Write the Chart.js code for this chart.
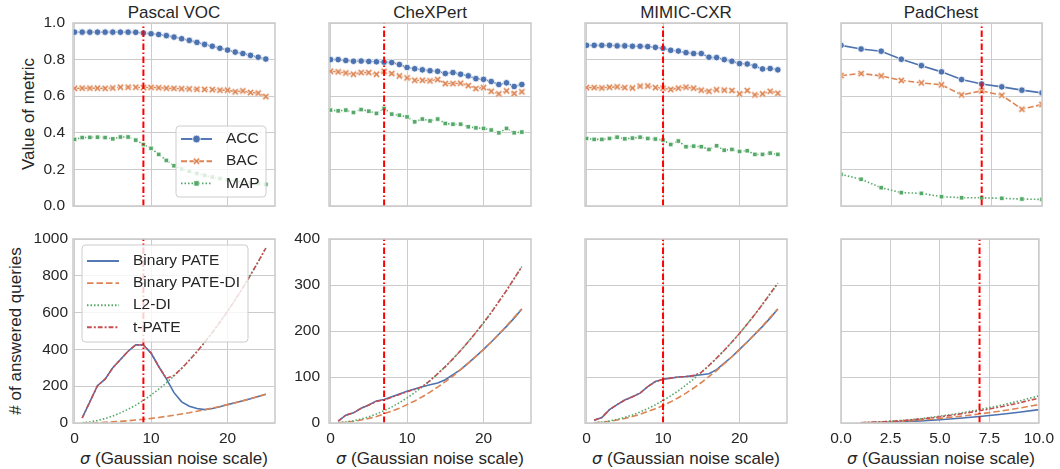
<!DOCTYPE html>
<html lang="en">
<head>
<meta charset="UTF-8">
<title>Metrics and answered queries vs. Gaussian noise scale</title>
<script src="https://cdn.jsdelivr.net/npm/chart.js@4.4.0/dist/chart.umd.min.js"></script>
<style>
    body {
        margin: 0;
        background: #ffffff;
        font-family: "Liberation Sans", Arial, sans-serif;
        color: #262626;
    }
    #fig {
        position: relative;
        width: 1060px;
        height: 469px;
        overflow: hidden;
    }
    #fig canvas {
        position: absolute;
        left: 0;
        top: 0;
    }
    .txt {
        position: absolute;
        font-size: 17px;
        line-height: 1;
        white-space: nowrap;
        transform: translate(-50%, -50%);
    }
    .vert {
        transform: translate(-50%, -50%) rotate(-90deg);
    }
    .sym {
        font-family: "DejaVu Sans", sans-serif;
        font-style: italic;
        font-size: 16px;
    }
</style>
</head>
<body>
<div id="fig">
    <div class="txt" style="left:174px; top:12px">Pascal VOC</div>
    <div class="txt" style="left:430px; top:12px">CheXPert</div>
    <div class="txt" style="left:686px; top:12px">MIMIC-CXR</div>
    <div class="txt" style="left:941px; top:12px">PadChest</div>
    <div class="txt vert" style="left:28px; top:114px">Value of metric</div>
    <div class="txt vert" style="left:15px; top:331px"># of answered queries</div>
    <div class="txt" style="left:174px; top:458px"><span class="sym">σ</span> (Gaussian noise scale)</div>
    <div class="txt" style="left:430px; top:458px"><span class="sym">σ</span> (Gaussian noise scale)</div>
    <div class="txt" style="left:686px; top:458px"><span class="sym">σ</span> (Gaussian noise scale)</div>
    <div class="txt" style="left:941px; top:458px"><span class="sym">σ</span> (Gaussian noise scale)</div>
</div>

<script>
    // ---- data ----
    const sigmaTop = [0, 1, 2, 3, 4, 5, 6, 7, 8, 9, 10, 11, 12, 13, 14, 15, 16, 17, 18, 19, 20, 21, 22, 23, 24, 25];
    const sigmaBottom = [1, 2, 3, 4, 5, 6, 7, 8, 9, 10, 11, 12, 13, 14, 15, 16, 17, 18, 19, 20, 21, 22, 23, 24, 25];
    const sigmaPadTop = [0, 1, 2, 3, 4, 5, 6, 7, 8, 9, 10];
    const sigmaPadBottom = [1, 2, 3, 4, 5, 6, 7, 8, 9, 10];
    const chosenSigma = [9, 7, 10, 7];

    const datasetNames = ['Pascal VOC', 'CheXPert', 'MIMIC-CXR', 'PadChest'];
    const metricNames = ['ACC', 'BAC', 'MAP'];
    const methodNames = ['Binary PATE', 'Binary PATE-DI', 'L2-DI', 't-PATE'];

    const pascalAcc = [0.950, 0.950, 0.950, 0.950, 0.950, 0.950, 0.950, 0.950, 0.949, 0.945, 0.941, 0.937, 0.931, 0.923, 0.914, 0.905, 0.894, 0.883, 0.873, 0.862, 0.852, 0.841, 0.833, 0.823, 0.813, 0.803];
    const pascalBac = [0.643, 0.644, 0.644, 0.644, 0.643, 0.645, 0.649, 0.649, 0.649, 0.647, 0.648, 0.646, 0.644, 0.643, 0.641, 0.640, 0.638, 0.637, 0.636, 0.633, 0.633, 0.624, 0.629, 0.620, 0.617, 0.598];
    const pascalMap = [0.364, 0.374, 0.375, 0.376, 0.374, 0.367, 0.377, 0.377, 0.360, 0.336, 0.315, 0.282, 0.249, 0.220, 0.202, 0.190, 0.178, 0.168, 0.158, 0.150, 0.143, 0.137, 0.132, 0.127, 0.122, 0.118];

    const chexAcc = [0.800, 0.800, 0.795, 0.791, 0.792, 0.790, 0.788, 0.786, 0.784, 0.773, 0.757, 0.750, 0.744, 0.739, 0.736, 0.724, 0.729, 0.720, 0.711, 0.696, 0.692, 0.680, 0.664, 0.673, 0.653, 0.664];
    const chexBac = [0.736, 0.733, 0.727, 0.720, 0.729, 0.729, 0.720, 0.736, 0.724, 0.711, 0.700, 0.687, 0.687, 0.684, 0.691, 0.669, 0.669, 0.671, 0.658, 0.642, 0.647, 0.627, 0.613, 0.629, 0.615, 0.624];
    const chexMap = [0.524, 0.520, 0.524, 0.511, 0.527, 0.518, 0.506, 0.533, 0.502, 0.496, 0.487, 0.460, 0.475, 0.465, 0.475, 0.451, 0.447, 0.447, 0.433, 0.427, 0.424, 0.415, 0.400, 0.424, 0.400, 0.404];

    const mimicAcc = [0.878, 0.878, 0.878, 0.878, 0.875, 0.875, 0.873, 0.873, 0.871, 0.867, 0.862, 0.851, 0.847, 0.838, 0.833, 0.833, 0.813, 0.811, 0.800, 0.791, 0.778, 0.776, 0.765, 0.749, 0.751, 0.744];
    const mimicBac = [0.647, 0.647, 0.645, 0.649, 0.651, 0.647, 0.645, 0.655, 0.656, 0.647, 0.644, 0.637, 0.644, 0.649, 0.644, 0.633, 0.627, 0.635, 0.633, 0.631, 0.613, 0.631, 0.607, 0.613, 0.627, 0.616];
    const mimicMap = [0.369, 0.364, 0.364, 0.369, 0.376, 0.367, 0.371, 0.376, 0.369, 0.366, 0.360, 0.336, 0.355, 0.324, 0.327, 0.324, 0.309, 0.329, 0.305, 0.309, 0.298, 0.302, 0.282, 0.282, 0.289, 0.282];

    const padAcc = [0.878, 0.858, 0.846, 0.802, 0.767, 0.733, 0.691, 0.667, 0.651, 0.633, 0.618];
    const padBac = [0.713, 0.724, 0.711, 0.686, 0.673, 0.662, 0.607, 0.629, 0.605, 0.529, 0.555];
    const padMap = [0.173, 0.146, 0.100, 0.073, 0.069, 0.051, 0.045, 0.045, 0.042, 0.038, 0.036];

    const pascalBinary = [27, 115, 203, 238, 300, 345, 390, 425, 424, 380, 307, 240, 165, 115, 91, 79, 73, 79, 88, 100, 110, 121, 132, 144, 156];
    const pascalBinaryDI = [0.3, 1, 2.3, 4, 6.3, 9, 12, 16, 20, 25, 30, 36, 42, 49, 56, 64, 72, 81, 90, 100, 110, 121, 132, 144, 156];
    const pascalL2DI = [1.5, 6, 14, 24, 38, 55, 75, 97, 123, 152, 184, 218, 256, 297, 341, 388, 438, 491, 548, 607, 670, 735, 804, 876, 950];
    const pascalTPate = [27, 115, 203, 238, 300, 345, 390, 425, 424, 380, 307, 243, 258, 297, 341, 388, 438, 491, 548, 607, 670, 735, 804, 876, 950];

    const chexBinary = [4, 17, 22, 32, 39, 48, 51, 57, 63, 69, 74, 79, 83, 87, 94, 105, 116, 130, 145, 160, 176, 193, 210, 228, 248];
    const chexBinaryDI = [0.4, 1.6, 3.6, 6.4, 10, 14, 20, 26, 32, 40, 48, 57, 67, 78, 90, 102, 116, 130, 145, 160, 176, 193, 211, 230, 248];
    const chexL2DI = [0.5, 2.2, 4.9, 8.7, 13.6, 19.6, 26.7, 34.9, 44.1, 54.5, 66, 78.5, 92, 107, 122.6, 139.5, 157.5, 176.6, 196.7, 218, 240, 264, 288, 314, 340];
    const chexTPate = [4, 17, 22, 32, 39, 47, 50, 56, 62, 68, 73, 79, 92, 107, 122.6, 139.5, 157.5, 176.6, 196.7, 218, 240, 264, 288, 314, 340];

    const mimicBinary = [6, 12, 29, 40, 50, 57, 65, 79, 90, 95, 97.5, 100, 101, 103, 105, 107, 116, 130, 144, 160, 176, 193, 210, 228, 248];
    const mimicBinaryDI = [0.4, 1.6, 3.6, 6.4, 10, 14, 19, 25, 31, 38, 46, 55, 65, 76, 88, 101, 114, 129, 144, 160, 176, 193, 211, 230, 248];
    const mimicL2DI = [0.5, 2, 4.4, 7.8, 12.2, 17.5, 23.9, 31.2, 39.5, 48.8, 59, 70, 82.5, 95.6, 110, 125, 141, 158, 176, 195, 215, 236, 258, 281, 304];
    const mimicTPate = [6, 12, 29, 40, 50, 57, 65, 79, 90, 95, 97.5, 100, 101, 103, 110, 125, 141, 158, 176, 195, 215, 236, 258, 281, 304];

    const padBinary = [0.3, 1.2, 2.6, 4.6, 7.2, 10.4, 14.2, 18.6, 23.5, 29];
    const padBinaryDI = [0.4, 1.6, 3.6, 6.4, 10, 14.4, 19.6, 25.6, 32.4, 40];
    const padL2DI = [0.6, 2.4, 5.3, 9.4, 14.8, 21.2, 28.9, 37.8, 47.8, 59];
    const padTPate = [0.5, 2.2, 4.9, 8.6, 13.5, 19.4, 26.5, 34.6, 43.7, 54];

    // ---- ticks ----
    const metricTicks = [0, 0.2, 0.4, 0.6, 0.8, 1.0];
    const metricTickLabels = ['0.0', '0.2', '0.4', '0.6', '0.8', '1.0'];
    const pascalQueryTicks = [0, 200, 400, 600, 800, 1000];
    const pascalQueryTickLabels = ['0', '200', '400', '600', '800', '1000'];
    const queryTicks = [0, 100, 200, 300, 400];
    const queryTickLabels = ['0', '100', '200', '300', '400'];
    const sigmaTicks = [0, 10, 20];
    const sigmaTickLabels = ['0', '10', '20'];
    const padSigmaTicks = [0, 2.5, 5, 7.5, 10];
    const padSigmaTickLabels = ['0.0', '2.5', '5.0', '7.5', '10.0'];

    // ---- look ----
    const BLUE = '#4c72b0', ORANGE = '#dd8452', GREEN = '#55a868', RED = '#c44e52';
    const GRID = '#cccccc';
    const TEXT = '#262626';
    const FONT = '"Liberation Sans", Arial, sans-serif';

    Chart.defaults.font.family = FONT;
    Chart.defaults.color = TEXT;

    // plot rectangles in page pixels
    const plotCols = [[73, 275], [329, 531], [585, 787], [841, 1042]];
    const plotRows = [[23, 206], [239, 423]];

    // small filled "x" marker with a white edge
    function makeXMarker(color) {
        const c = document.createElement('canvas');
        c.width = 9;
        c.height = 9;
        const g = c.getContext('2d');
        g.translate(4.5, 4.5);
        g.lineCap = 'butt';
        [['#ffffff', 2.8], [color, 1.6]].forEach(([col, w]) => {
            g.strokeStyle = col;
            g.lineWidth = w;
            g.beginPath();
            g.moveTo(-2.6, -2.6); g.lineTo(2.6, 2.6);
            g.moveTo(-2.6, 2.6); g.lineTo(2.6, -2.6);
            g.stroke();
        });
        return c;
    }

    const metricStyles = [
        { color: BLUE, dash: [], marker: 'circle', radius: 3.3 },
        { color: ORANGE, dash: [6, 2.5], marker: makeXMarker(ORANGE), radius: 3 },
        { color: GREEN, dash: [1.5, 2], marker: 'rect', radius: 3.2 }
    ];
    const methodStyles = [
        { color: BLUE, dash: [] },
        { color: ORANGE, dash: [6.5, 3] },
        { color: GREEN, dash: [1.5, 2] },
        { color: RED, dash: [4.8, 2, 2, 2] }
    ];

    function pts(xs, ys) {
        return xs.map((x, i) => ({ x: x, y: ys[i] }));
    }

    // grey box around each axes
    const framePlugin = {
        id: 'frame',
        afterDraw(chart) {
            const a = chart.chartArea;
            const ctx = chart.ctx;
            ctx.save();
            ctx.strokeStyle = GRID;
            ctx.lineWidth = 1.6;
            ctx.strokeRect(a.left, a.top, a.right - a.left, a.bottom - a.top);
            ctx.restore();
        }
    };

    // legend box placed inside the axes
    const boxLegendPlugin = {
        id: 'boxLegend',
        afterDatasetsDraw(chart, args, opts) {
            if (!opts.box) return;
            const ctx = chart.ctx;
            const [bx, by, bw, bh] = opts.box;
            const r = 3.5;
            ctx.save();
            ctx.beginPath();
            ctx.moveTo(bx + r, by);
            ctx.arcTo(bx + bw, by, bx + bw, by + bh, r);
            ctx.arcTo(bx + bw, by + bh, bx, by + bh, r);
            ctx.arcTo(bx, by + bh, bx, by, r);
            ctx.arcTo(bx, by, bx + bw, by, r);
            ctx.closePath();
            ctx.fillStyle = 'rgba(255,255,255,0.8)';
            ctx.fill();
            ctx.strokeStyle = GRID;
            ctx.lineWidth = 1;
            ctx.stroke();

            const items = chart.data.datasets.filter(d => d.label);
            items.forEach((d, i) => {
                const y = opts.firstRow + i * opts.rowGap;
                ctx.setLineDash(d.borderDash || []);
                ctx.strokeStyle = d.borderColor;
                ctx.lineWidth = d.borderWidth + 0.3;
                ctx.beginPath();
                ctx.moveTo(opts.lineX, y);
                ctx.lineTo(opts.lineX + opts.lineLen, y);
                ctx.stroke();
                ctx.setLineDash([]);
                if (d.pointRadius > 0) {
                    ctx.fillStyle = d.pointBackgroundColor;
                    ctx.strokeStyle = d.pointBorderColor;
                    ctx.lineWidth = d.pointBorderWidth;
                    Chart.helpers.drawPoint(ctx, {
                        pointStyle: d.pointStyle,
                        radius: d.pointRadius + 0.6,
                        rotation: 0,
                        borderWidth: d.pointBorderWidth
                    }, opts.lineX + opts.lineLen / 2, y);
                }
                ctx.fillStyle = TEXT;
                ctx.font = '15.5px ' + FONT;
                ctx.textBaseline = 'middle';
                ctx.textAlign = 'left';
                ctx.fillText(d.label, opts.textX, y);
            });
            ctx.restore();
        }
    };

    function makePanel(cfg) {
        const canvas = document.createElement('canvas');
        canvas.width = 1060;
        canvas.height = 469;
        document.getElementById('fig').appendChild(canvas);

        const [left, right] = plotCols[cfg.col];
        const [top, bottom] = plotRows[cfg.row];

        const datasets = cfg.series.map((s, i) => ({
            label: s.label,
            data: pts(s.xs, s.ys),
            borderColor: s.style.color,
            backgroundColor: s.style.color,
            borderWidth: 1.6,
            borderDash: s.style.dash,
            pointStyle: s.style.marker || 'circle',
            pointRadius: s.style.marker ? s.style.radius : 0,
            pointHoverRadius: 0,
            pointBackgroundColor: s.style.color,
            pointBorderColor: '#ffffff',
            pointBorderWidth: 0.8,
            tension: 0,
            order: -i
        }));
        // chosen noise scale
        datasets.push({
            data: [{ x: cfg.sigma, y: cfg.yTicks[0] }, { x: cfg.sigma, y: cfg.yTicks[cfg.yTicks.length - 1] }],
            borderColor: '#ff0000',
            borderWidth: 2,
            borderDash: [6.5, 2.5, 1.5, 2.5],
            pointRadius: 0,
            order: -100
        });

        // the axes take the whole margin left of / below the plot,
        // so their labels are not clipped away
        new Chart(canvas, {
            type: 'line',
            data: { datasets: datasets },
            options: {
                responsive: false,
                animation: false,
                events: [],
                layout: {
                    padding: { left: 0, right: 1060 - right, top: top, bottom: 0 }
                },
                plugins: {
                    legend: { display: false },
                    tooltip: { enabled: false },
                    boxLegend: cfg.legend || {}
                },
                scales: {
                    x: {
                        type: 'linear',
                        min: cfg.xMin,
                        max: cfg.xMax,
                        afterBuildTicks: s => { s.ticks = cfg.xTicks.map(v => ({ value: v })); },
                        afterFit: s => { s.height = 469 - bottom; },
                        grid: { color: GRID, lineWidth: 1, drawTicks: false },
                        border: { display: false },
                        ticks: {
                            display: cfg.showX,
                            autoSkip: false,
                            maxRotation: 0,
                            padding: 6,
                            color: TEXT,
                            font: { size: 15.5 },
                            callback: (v, i) => cfg.xLabels[i]
                        }
                    },
                    y: {
                        type: 'linear',
                        min: cfg.yTicks[0],
                        max: cfg.yTicks[cfg.yTicks.length - 1],
                        afterBuildTicks: s => { s.ticks = cfg.yTicks.map(v => ({ value: v })); },
                        afterFit: s => { s.width = left; },
                        grid: { color: GRID, lineWidth: 1, drawTicks: false },
                        border: { display: false },
                        ticks: {
                            display: cfg.showY,
                            autoSkip: false,
                            padding: cfg.yPad || 7,
                            color: TEXT,
                            font: { size: 15.5 },
                            callback: (v, i) => cfg.yLabels[i]
                        }
                    }
                }
            },
            plugins: [boxLegendPlugin, framePlugin]
        });
    }

    // ---- top row: metrics ----
    const metricSets = [
        [sigmaTop, [pascalAcc, pascalBac, pascalMap]],
        [sigmaTop, [chexAcc, chexBac, chexMap]],
        [sigmaTop, [mimicAcc, mimicBac, mimicMap]],
        [sigmaPadTop, [padAcc, padBac, padMap]]
    ];
    // ---- bottom row: answered queries ----
    const querySets = [
        [sigmaBottom, [pascalBinary, pascalBinaryDI, pascalL2DI, pascalTPate]],
        [sigmaBottom, [chexBinary, chexBinaryDI, chexL2DI, chexTPate]],
        [sigmaBottom, [mimicBinary, mimicBinaryDI, mimicL2DI, mimicTPate]],
        [sigmaPadBottom, [padBinary, padBinaryDI, padL2DI, padTPate]]
    ];

    datasetNames.forEach((name, c) => {
        const isPad = c === 3;
        const xCommon = {
            xMin: isPad ? 0 : -0.2,
            xMax: isPad ? 10 : 26.2,
            xTicks: isPad ? padSigmaTicks : sigmaTicks,
            xLabels: isPad ? padSigmaTickLabels : sigmaTickLabels,
            sigma: chosenSigma[c]
        };

        const [mx, mys] = metricSets[c];
        makePanel(Object.assign({}, xCommon, {
            col: c, row: 0,
            showX: false,
            showY: c === 0,
            yPad: 8,
            yTicks: metricTicks,
            yLabels: metricTickLabels,
            series: mys.map((ys, i) => ({ label: metricNames[i], xs: mx, ys: ys, style: metricStyles[i] })),
            legend: c === 0 ? { box: [176, 126, 90, 71], firstRow: 139, rowGap: 22.2, lineX: 181, lineLen: 31, textX: 226 } : null
        }));

        const [qx, qys] = querySets[c];
        makePanel(Object.assign({}, xCommon, {
            col: c, row: 1,
            showX: true,
            showY: c <= 1,
            yPad: c === 0 ? 5 : 9,
            yTicks: c === 0 ? pascalQueryTicks : queryTicks,
            yLabels: c === 0 ? pascalQueryTickLabels : queryTickLabels,
            series: qys.map((ys, i) => ({ label: methodNames[i], xs: qx, ys: ys, style: methodStyles[i] })),
            legend: c === 0 ? { box: [82, 245, 166, 97], firstRow: 261, rowGap: 22.1, lineX: 87, lineLen: 32, textX: 133 } : null
        }));
    });
</script>
</body>
</html>
